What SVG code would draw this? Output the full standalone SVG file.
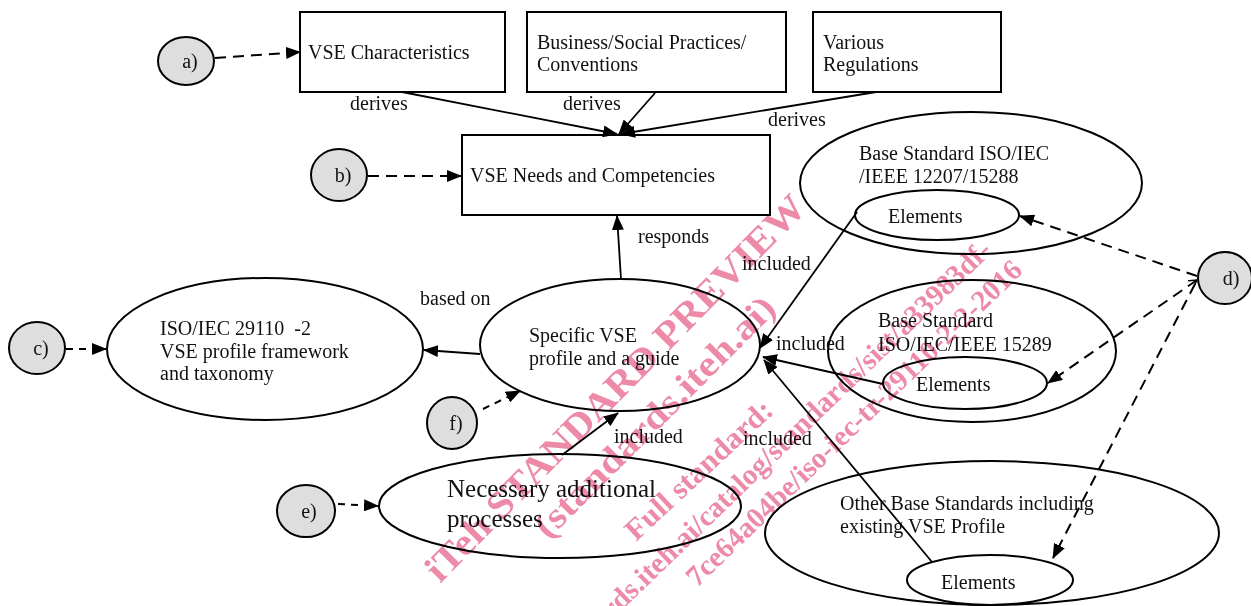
<svg xmlns="http://www.w3.org/2000/svg" width="1251" height="606" viewBox="0 0 1251 606">
<style>
.box{fill:#fff;stroke:#000;stroke-width:2}
.ell{fill:#fff;stroke:#000;stroke-width:2}
.in{fill:none;stroke:#000;stroke-width:2}
.tag{fill:#dedede;stroke:#000;stroke-width:2}
.t{font-family:"Liberation Serif","Times New Roman",serif;font-size:20px;fill:#111}
.big{font-size:25px}
.c{stroke:#000;stroke-width:1.8;fill:none}
.dl{stroke:#000;stroke-width:2;fill:none;stroke-dasharray:11 7}
.ds{stroke:#000;stroke-width:2;fill:none;stroke-dasharray:7 6}
.wm{font-family:"Liberation Serif","Times New Roman",serif;font-weight:bold;fill:#ec8aa8}
</style>
<defs>
<marker id="ah" markerUnits="userSpaceOnUse" markerWidth="15" markerHeight="12" refX="14" refY="6" orient="auto">
<path d="M0,0 L15,6 L0,12 z" fill="#000"/>
</marker>
<marker id="oh" markerUnits="userSpaceOnUse" markerWidth="9" markerHeight="9" refX="8" refY="4.5" orient="auto-start-reverse">
<path d="M0,0 L8,4.5 L0,9" fill="none" stroke="#000" stroke-width="1.5"/>
</marker>
</defs>
<rect width="1251" height="606" fill="#fff"/>

<g id="node-vse-characteristics">
<rect class="box" x="300" y="12" width="205" height="80"/>
<text class="t" x="308" y="59">VSE Characteristics</text>
</g>
<g id="node-business">
<rect class="box" x="527" y="12" width="259" height="80"/>
<text class="t" x="537" y="49">Business/Social Practices/</text>
<text class="t" x="537" y="71">Conventions</text>
</g>
<g id="node-regulations">
<rect class="box" x="813" y="12" width="188" height="80"/>
<text class="t" x="823" y="49">Various</text>
<text class="t" x="823" y="71">Regulations</text>
</g>
<g id="node-needs">
<rect class="box" x="462" y="135" width="308" height="80"/>
<text class="t" x="470" y="182">VSE Needs and Competencies</text>
</g>
<g id="node-iso29110">
<ellipse class="ell" cx="265" cy="349" rx="158" ry="71"/>
<text class="t" x="160" y="335" xml:space="preserve">ISO/IEC 29110  -2</text>
<text class="t" x="160" y="358">VSE profile framework</text>
<text class="t" x="160" y="380">and taxonomy</text>
</g>
<g id="node-specific">
<ellipse class="ell" cx="620" cy="345" rx="140" ry="66"/>
<text class="t" x="529" y="342">Specific VSE</text>
<text class="t" x="529" y="365">profile and a guide</text>
</g>
<g id="node-necessary">
<ellipse class="ell" cx="560" cy="506" rx="181" ry="52"/>
<text class="t big" x="447" y="497">Necessary additional</text>
<text class="t big" x="447" y="527">processes</text>
</g>
<g id="node-base-12207">
<ellipse class="ell" cx="971" cy="183" rx="171" ry="71"/>
<text class="t" x="859" y="160">Base Standard ISO/IEC</text>
<text class="t" x="859" y="183">/IEEE 12207/15288</text>
<ellipse class="in" cx="937" cy="215" rx="82" ry="25"/>
<text class="t" x="888" y="223">Elements</text>
</g>
<g id="node-base-15289">
<ellipse class="ell" cx="972" cy="351" rx="144" ry="71"/>
<text class="t" x="878" y="327">Base Standard</text>
<text class="t" x="878" y="351">ISO/IEC/IEEE 15289</text>
<ellipse class="in" cx="965" cy="383" rx="82" ry="26"/>
<text class="t" x="916" y="391">Elements</text>
</g>
<g id="node-other">
<ellipse class="ell" cx="992" cy="533" rx="227" ry="72"/>
<text class="t" x="840" y="510">Other Base Standards including</text>
<text class="t" x="840" y="533">existing VSE Profile</text>
<ellipse class="in" cx="990" cy="580" rx="83" ry="25"/>
<text class="t" x="941" y="589">Elements</text>
</g>
<g id="tag-a"><ellipse class="tag" cx="186" cy="61" rx="28" ry="24"/><text class="t" x="190" y="68" text-anchor="middle">a)</text></g>
<g id="tag-b"><ellipse class="tag" cx="339" cy="175" rx="28" ry="26"/><text class="t" x="343" y="182" text-anchor="middle">b)</text></g>
<g id="tag-c"><ellipse class="tag" cx="37" cy="348" rx="28" ry="26"/><text class="t" x="41" y="355" text-anchor="middle">c)</text></g>
<g id="tag-d"><ellipse class="tag" cx="1225" cy="278" rx="27" ry="26"/><text class="t" x="1231" y="285" text-anchor="middle">d)</text></g>
<g id="tag-e"><ellipse class="tag" cx="306" cy="511" rx="29" ry="26"/><text class="t" x="309" y="518" text-anchor="middle">e)</text></g>
<g id="tag-f"><ellipse class="tag" cx="452" cy="423" rx="25" ry="26"/><text class="t" x="456" y="430" text-anchor="middle">f)</text></g>

<g id="connectors">
<line class="dl" x1="215" y1="58" x2="300" y2="52" marker-end="url(#ah)"/>
<line class="dl" x1="368" y1="176" x2="461" y2="176" marker-end="url(#ah)"/>
<line class="c" x1="402" y1="92" x2="617" y2="134" marker-end="url(#ah)"/>
<line class="c" x1="655" y1="93" x2="619" y2="134" marker-end="url(#ah)"/>
<line class="c" x1="876" y1="92" x2="621" y2="134" marker-end="url(#ah)"/>
<line class="c" x1="621" y1="279" x2="617" y2="216" marker-end="url(#ah)"/>
<line class="c" x1="480" y1="354" x2="424" y2="350" marker-end="url(#ah)"/>
<line class="ds" x1="66" y1="349" x2="106" y2="349" marker-end="url(#ah)"/>
<line class="ds" x1="483" y1="409" x2="520" y2="391" marker-end="url(#ah)"/>
<line class="ds" x1="338" y1="504" x2="378" y2="506" marker-end="url(#ah)"/>
<line class="c" x1="562" y1="455" x2="618" y2="413" marker-end="url(#ah)"/>
<line class="c" x1="857" y1="212" x2="760" y2="348" marker-end="url(#ah)"/>
<line class="c" x1="883" y1="384" x2="763" y2="357" marker-end="url(#ah)"/>
<line class="c" x1="932" y1="562" x2="764" y2="360" marker-end="url(#ah)"/>
<line class="dl" x1="1197" y1="276" x2="1020" y2="216" marker-end="url(#ah)"/>
<line class="dl" x1="1197" y1="280" x2="1048" y2="383" marker-start="url(#oh)" marker-end="url(#ah)"/>
<line class="dl" x1="1195" y1="284" x2="1053" y2="558" marker-end="url(#ah)"/>
<text class="t" x="350" y="110">derives</text>
<text class="t" x="563" y="110">derives</text>
<text class="t" x="768" y="126">derives</text>
<text class="t" x="638" y="243">responds</text>
<text class="t" x="420" y="305">based on</text>
<text class="t" x="742" y="270">included</text>
<text class="t" x="776" y="350">included</text>
<text class="t" x="614" y="443">included</text>
<text class="t" x="743" y="445">included</text>
</g>

<g id="watermark" style="mix-blend-mode:multiply">
<text class="wm" font-size="38" transform="translate(440,584) rotate(-45.5)" textLength="525" lengthAdjust="spacingAndGlyphs">iTeh STANDARD PREVIEW</text>
<text class="wm" font-size="36" transform="translate(548,540) rotate(-45)" textLength="325" lengthAdjust="spacingAndGlyphs">(standards.iteh.ai)</text>
<text class="wm" font-size="30" transform="translate(636,542) rotate(-43)" textLength="190" lengthAdjust="spacingAndGlyphs">Full standard:</text>
<text class="wm" font-size="29" text-anchor="end" transform="translate(993,252) rotate(-44)">https://standards.iteh.ai/catalog/standards/sist/a33983df-</text>
<text class="wm" font-size="29" text-anchor="end" transform="translate(1024,272) rotate(-44)">7ce64a04be/iso-iec-tr-29110-2-2-2016</text>
</g>
</svg>
